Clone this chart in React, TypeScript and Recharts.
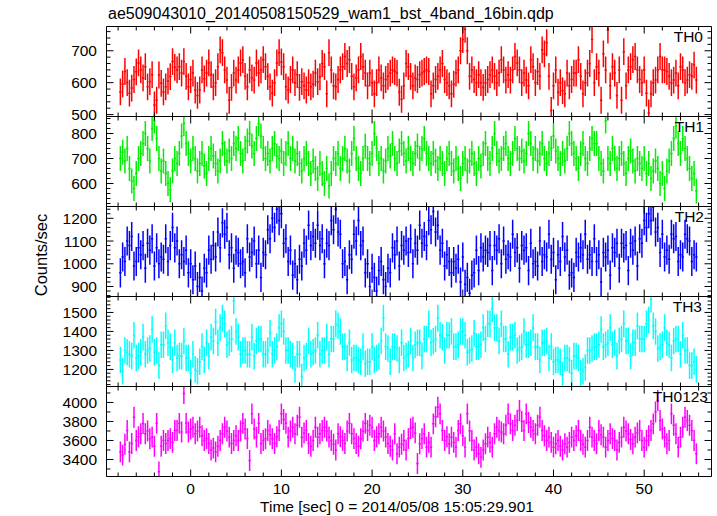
import React from 'react';
import { ScatterChart, Scatter, XAxis, YAxis, ErrorBar } from 'recharts';

const W = 717;
const H = 516;
const FONT = '"Liberation Sans", Arial, Helvetica, sans-serif';

// time bins (sec, relative to 2014/05/08 15:05:29.901)
const T_START = -7.75;
const BIN = 0.25;
const X_DOMAIN: [number, number] = [-9.28, 57.42];
const X_MAJOR_LABELS = [0, 10, 20, 30, 40, 50];

const TITLE = 'ae509043010_20140508150529_wam1_bst_4band_16bin.qdp';
const X_LABEL = 'Time [sec] 0 = 2014/05/08 15:05:29.901';
const Y_LABEL = 'Counts/sec';

const TH0_RATE = [
  571, 596, 635, 600, 567, 583, 610, 634, 662, 640,
  615, 650, 587, 603, 625, 530, 545, 624, 598, 571,
  587, 605, 619, 666, 648, 640, 650, 630, 666, 620,
  587, 610, 630, 577, 560, 577, 640, 612, 630, 662,
  625, 587, 600, 650, 703, 694, 640, 608, 545, 585,
  630, 608, 640, 662, 672, 620, 587, 640, 615, 608,
  662, 630, 640, 672, 650, 619, 587, 567, 600, 662,
  694, 665, 650, 587, 577, 610, 640, 600, 625, 585,
  603, 590, 577, 600, 587, 595, 630, 603, 618, 660,
  650, 565, 694, 640, 590, 587, 610, 640, 650, 682,
  660, 672, 620, 587, 615, 640, 682, 650, 630, 590,
  630, 600, 565, 600, 640, 615, 590, 610, 620, 630,
  640, 635, 630, 570, 548, 590, 660, 650, 620, 590,
  615, 610, 625, 630, 635, 640, 635, 565, 590, 610,
  620, 640, 660, 610, 600, 590, 565, 595, 630, 640,
  700, 735, 767, 700, 620, 640, 610, 600, 625, 600,
  585, 600, 610, 625, 640, 620, 600, 630,
  672, 640, 608, 625, 608, 640, 682, 662, 640, 600,
  630, 608, 590, 672, 650, 600, 635, 620, 703, 690,
  725, 620, 513, 590, 640, 570, 600, 575, 565, 630,
  590, 610, 630, 630, 672, 620, 565, 600, 630, 660,
  735, 600, 650, 630, 545, 690, 640, 765, 590, 650,
  630, 560, 640, 545, 697, 590, 640, 650, 672, 682,
  640, 610, 600, 640, 567, 505, 565, 600, 608, 640,
  682, 640, 640, 635, 620, 600, 608, 630, 590, 650,
  640, 600, 608, 625, 620, 655, 608,
];

const TH1_RATE = [
  700, 725, 690, 740, 660, 610, 580, 640, 700, 720,
  760, 800, 740, 690, 820, 850, 780, 700, 650, 690,
  640, 600, 575, 650, 700, 680, 720, 790, 840, 760,
  720, 690, 740, 700, 650, 680, 720, 670, 640, 700,
  740, 710, 680, 650, 690, 760, 720, 690, 730, 700,
  760, 740, 780, 720, 690, 740, 770, 800, 750, 720,
  780, 840, 790, 740, 700, 720, 690, 740, 760, 710,
  700, 730, 680, 720, 760, 700, 740, 690, 720, 680,
  650, 700, 720, 680, 640, 690, 660, 620, 680, 640,
  600, 660, 590, 640, 700, 680, 720, 660, 700, 740,
  690, 650, 720, 780, 700, 660, 640, 700, 750, 700,
  680, 720, 800, 740, 680, 700, 650, 690, 740, 710,
  760, 700, 680, 730, 760, 720, 690, 740, 700, 680,
  720, 750, 700, 740, 780, 720, 700, 680, 720, 690,
  660, 700, 680, 640, 700, 720, 680, 650, 700, 660,
  620, 680, 700, 650, 690, 720, 680, 640, 700, 670,
  720, 760, 700, 680, 740, 800, 720, 690, 700, 740,
  760, 700, 680, 720, 780, 740, 700, 730, 690, 720,
  800, 760, 700, 740, 690, 720, 760, 700, 680, 720,
  740, 790, 730, 700, 680, 720, 690, 740, 800, 760,
  720, 700, 660, 720, 760, 700, 680, 740, 780, 760,
  760, 700, 680, 650, 850, 700, 680, 740, 700, 660,
  700, 720, 680, 640, 700, 730, 690, 650, 700, 680,
  660, 700, 640, 680, 620, 650, 690, 660, 600, 640,
  580, 650, 690, 720, 780, 830, 760, 720, 780, 740,
  700, 660, 620, 640, 570,
];

const TH2_RATE = [
  960, 1030, 1010, 1100, 1080, 1120, 990, 1010, 1070, 1040,
  1080, 980, 1090, 1060, 1110, 990, 1070, 1000, 1030, 1020,
  1110, 1010, 1080, 1160, 1070, 1100, 1000, 1040, 1010, 1060,
  960, 1000, 930, 990, 900, 940, 880, 980, 960, 1060,
  1020, 1080, 1030, 1140, 1070, 1180, 1130, 1160, 1040, 1070,
  980, 1060, 1050, 1000, 1010, 960, 1110, 1030, 1050, 1100,
  1000, 1060, 940, 1050, 1040, 1150, 1110, 1200, 1160, 1240,
  1190, 1220, 1090, 1110, 1010, 1060, 950, 1000, 930, 1020,
  990, 1090, 1060, 1170, 1080, 1120, 1090, 1170, 1080, 1110,
  1000, 1090, 1080, 1190, 1150, 1240, 1140, 1130, 1000, 1010,
  930, 1040, 1020, 1130, 1100, 1190, 1080, 1100, 960, 1000,
  900, 980, 940, 880, 970, 1010, 930, 900, 980, 960,
  1070, 1040, 1100, 990, 1080, 1060, 1100, 1050, 1110, 1000,
  1090, 1060, 1170, 1090, 1120, 1080, 1190, 1150, 1230, 1140,
  1170, 1060, 1090, 990, 1040, 1010, 960, 1010, 980, 1020,
  920, 1030, 910, 940, 870, 950, 960, 1060, 970, 1070,
  1030, 1060, 1050, 1080, 970, 1080, 1060, 1110, 1000, 1100,
  1020, 1040, 1030, 1130, 1050, 1070, 980, 1080, 1060, 1070,
  970, 1090, 1000, 1010, 990, 1100, 1010, 1040, 1030, 1130,
  1020, 1050, 930, 1040, 1010, 1120, 1030, 1060, 950, 960,
  940, 1050, 1030, 1070, 1040, 1130, 1020, 1040, 1010, 1110,
  1010, 1040, 920, 1050, 1030, 1060, 950, 1070, 1050, 1090,
  980, 1090, 1070, 1080, 970, 1090, 1060, 1100, 990, 1110,
  1090, 1190, 1160, 1220, 1190, 1250, 1140, 1160, 1050, 1130,
  1030, 1060, 1020, 1130, 1110, 1120, 1010, 1040, 1030, 1130,
  1110, 1100, 1010, 1040, 1030,
];

const TH3_RATE = [
  1250, 1190, 1300, 1290, 1280, 1270, 1380, 1260, 1270, 1290,
  1370, 1280, 1300, 1310, 1410, 1290, 1300, 1220, 1330, 1330,
  1430, 1340, 1320, 1250, 1340, 1260, 1270, 1270, 1350, 1260,
  1260, 1180, 1280, 1200, 1190, 1240, 1320, 1250, 1340, 1270,
  1370, 1350, 1450, 1340, 1420, 1470, 1440, 1330, 1340, 1360,
  1560, 1400, 1370, 1280, 1300, 1300, 1280, 1280, 1370, 1270,
  1350, 1360, 1360, 1280, 1280, 1300, 1390, 1280, 1300, 1320,
  1420, 1440, 1400, 1300, 1300, 1280, 1270, 1200, 1280, 1280,
  1160, 1260, 1270, 1350, 1280, 1290, 1300, 1380, 1280, 1300,
  1300, 1370, 1280, 1360, 1360, 1440, 1430, 1400, 1320, 1320,
  1260, 1340, 1250, 1260, 1260, 1250, 1240, 1320, 1230, 1240,
  1240, 1320, 1250, 1260, 1270, 1350, 1470, 1320, 1310, 1240,
  1320, 1320, 1310, 1250, 1340, 1260, 1270, 1280, 1350, 1260,
  1330, 1340, 1340, 1270, 1360, 1360, 1440, 1340, 1350, 1360,
  1470, 1380, 1370, 1300, 1380, 1380, 1400, 1320, 1320, 1330,
  1400, 1400, 1380, 1290, 1300, 1310, 1390, 1320, 1320, 1330,
  1420, 1360, 1440, 1440, 1520, 1420, 1420, 1350, 1440, 1360,
  1360, 1280, 1370, 1370, 1380, 1300, 1310, 1320, 1400, 1330,
  1330, 1340, 1420, 1320, 1320, 1250, 1340, 1340, 1350, 1260,
  1320, 1240, 1250, 1250, 1240, 1170, 1260, 1260, 1250, 1180,
  1270, 1270, 1260, 1180, 1190, 1210, 1300, 1300, 1310, 1320,
  1320, 1330, 1410, 1320, 1330, 1340, 1420, 1330, 1340, 1270,
  1350, 1360, 1440, 1350, 1350, 1270, 1340, 1340, 1430, 1360,
  1360, 1360, 1440, 1460, 1570, 1430, 1400, 1310, 1320, 1330,
  1420, 1340, 1330, 1260, 1350, 1360, 1360, 1280, 1380, 1300,
  1300, 1220, 1220, 1240, 1200,
];

const TH0123_RATE = [
  3480, 3446, 3560, 3705, 3480, 3568, 3845, 3600, 3640, 3670,
  3779, 3670, 3700, 3618, 3635, 3540, 3780, 3270, 3540, 3600,
  3568, 3600, 3620, 3580, 3705, 3705, 3780, 3690, 4094, 3780,
  3690, 3720, 3740, 3670, 3700, 3740, 3650, 3600, 3620, 3568,
  3500, 3520, 3480, 3540, 3600, 3670, 3740, 3700, 3635, 3568,
  3600, 3650, 3600, 3700, 3780, 3720, 3620, 3390, 3880, 3720,
  3635, 3780, 3568, 3600, 3618, 3705, 3660, 3618, 3568, 3640,
  3705, 3880, 3820, 3780, 3635, 3700, 3740, 3670, 3760, 3845,
  3635, 3680, 3705, 3568, 3540, 3600, 3740, 3635, 3670, 3705,
  3740, 3700, 3635, 3600, 3560, 3500, 3670, 3640, 3600, 3568,
  3700, 3780, 3670, 3620, 3568, 3540, 3618, 3700, 3780, 3705,
  3760, 3740, 3600, 3640, 3670, 3740, 3700, 3635, 3568, 3540,
  3500, 3670, 3460,
  3530, 3560, 3600, 3500, 3620, 3725, 3740, 3680, 3358, 3565, 3620, 3670, 3530, 3580, 3530,
  3775, 3850, 3950, 3880, 3705, 3600, 3640, 3565, 3635, 3580, 3530, 3705, 3775, 3650, 3530,
  3880, 3700, 3600, 3500, 3530, 3460, 3424, 3500, 3565, 3635, 3580, 3530, 3670, 3740, 3705,
  3690, 3670, 3760, 3880, 3775, 3705, 3760, 3810, 3916, 3800, 3705, 3880, 3790, 3740, 3705,
  3670, 3760, 3845, 3705, 3650, 3600, 3635, 3580, 3530, 3565, 3600, 3540, 3500, 3565, 3530,
  3580, 3635, 3600, 3650, 3705, 3600, 3560, 3530, 3600, 3740, 3635, 3600, 3565, 3705, 3660,
  3635, 3530, 3600, 3670, 3620, 3600, 3500, 3580, 3635, 3740, 3700, 3670, 3610, 3565, 3635,
  3680, 3705, 3600, 3530, 3600, 3650, 3705, 3775, 3900, 4021, 3810, 3720, 3635, 3565, 3600,
  3880, 3760, 3670, 3530, 3635, 3740, 3845, 3810, 3760, 3705, 3600, 3460,
];

// 1-sigma errors (counts/sec) per band
const TH0_ERR = 42;
const TH1_ERR = 50;
const TH2_ERR = 64;
const TH3_ERR = 70;
const TH0123_ERR = 110;

const TH0_LABELS = [500, 600, 700];
const TH1_LABELS = [600, 700, 800];
const TH2_LABELS = [900, 1000, 1100, 1200];
const TH3_LABELS = [1200, 1300, 1400, 1500];
const TH0123_LABELS = [3400, 3600, 3800, 4000];

function steps(a: number, b: number, s: number): number[] {
  const out: number[] = [];
  for (let v = a; v <= b + 1e-9; v += s) out.push(Math.round(v * 1000) / 1000);
  return out;
}

const X_TICKS = steps(-8, 56, 2);

type Panel = {
  name: string;
  values: number[];
  err: number;
  color: string;
  domain: [number, number];
  labels: number[];
  minorStep: number;
  majorStep: number;
  top: number;
  bottom: number;
  labelRight: number;
};

const PANEL_EDGES = [26.5, 116.5, 206.5, 296.5, 386.5, 476.5];
const LEFT = 106.5;
const RIGHT = 711.5;

const PANELS: Panel[] = [
  { name: 'TH0', values: TH0_RATE, err: TH0_ERR, color: '#ff0000', domain: [494, 776], labels: TH0_LABELS, minorStep: 20, majorStep: 100, top: PANEL_EDGES[0], bottom: PANEL_EDGES[1], labelRight: 703 },
  { name: 'TH1', values: TH1_RATE, err: TH1_ERR, color: '#00ee00', domain: [508, 868], labels: TH1_LABELS, minorStep: 20, majorStep: 100, top: PANEL_EDGES[1], bottom: PANEL_EDGES[2], labelRight: 704 },
  { name: 'TH2', values: TH2_RATE, err: TH2_ERR, color: '#0000ff', domain: [856, 1252], labels: TH2_LABELS, minorStep: 20, majorStep: 100, top: PANEL_EDGES[2], bottom: PANEL_EDGES[3], labelRight: 704 },
  { name: 'TH3', values: TH3_RATE, err: TH3_ERR, color: '#00ffff', domain: [1110, 1584], labels: TH3_LABELS, minorStep: 20, majorStep: 100, top: PANEL_EDGES[3], bottom: PANEL_EDGES[4], labelRight: 702 },
  { name: 'TH0123', values: TH0123_RATE, err: TH0123_ERR, color: '#ff00ff', domain: [3221, 4168], labels: TH0123_LABELS, minorStep: 100, majorStep: 200, top: PANEL_EDGES[4], bottom: PANEL_EDGES[5], labelRight: 708 },
];

const TICK_FONT = 15.5;
const MAJOR_LEN = 7;
const MINOR_LEN = 4;
const LINE_W = 1.5;

// charts are drawn on an enlarged canvas shifted by PAD so that axis widths fit
const PAD = 80;
const AX_W = 40;
const AX_H = 30;
const CW = W + 2 * PAD;
const CH = H + 2 * PAD;

// half a time bin, in pixels of the x scale (used for the horizontal bin marker)
const HALF_BIN_PX = ((RIGHT - LEFT) / (X_DOMAIN[1] - X_DOMAIN[0])) * (BIN / 2);

function makeBinShape(color: string) {
  return (props: any) => {
    const { cx, cy } = props;
    if (cx == null || cy == null) return <g />;
    return (
      <line
        x1={cx - HALF_BIN_PX}
        x2={cx + HALF_BIN_PX}
        y1={cy}
        y2={cy}
        stroke={color}
        strokeWidth={LINE_W}
        strokeLinecap="butt"
        fill="none"
      />
    );
  };
}

function renderXTick(props: any, side: 'top' | 'bottom', showLabel: boolean) {
  const { x, y, payload } = props;
  const v = payload.value as number;
  const major = Math.abs(v % 10) < 1e-9;
  const len = major ? MAJOR_LEN : MINOR_LEN;
  const dir = side === 'bottom' ? -1 : 1;
  return (
    <g>
      <line x1={x} x2={x} y1={y} y2={y + dir * len} stroke="#000" strokeWidth={1} />
      {showLabel && major && side === 'bottom' ? (
        <text x={x} y={y + 17.5} textAnchor="middle" fontFamily={FONT} fontSize={TICK_FONT} fill="#000">
          {v}
        </text>
      ) : null}
    </g>
  );
}

function renderYTick(props: any, side: 'left' | 'right', majorStep: number) {
  const { x, y, payload } = props;
  const v = payload.value as number;
  const major = Math.abs(v % majorStep) < 1e-9;
  const len = major ? MAJOR_LEN : MINOR_LEN;
  const dir = side === 'left' ? 1 : -1;
  return (
    <g>
      <line x1={x} x2={x + dir * len} y1={y} y2={y} stroke="#000" strokeWidth={1} />
      {side === 'left' && major ? (
        <text x={x - 9.5} y={y + 5.5} textAnchor="end" fontFamily={FONT} fontSize={TICK_FONT} fill="#000">
          {v}
        </text>
      ) : null}
    </g>
  );
}

// data layer: hidden axes, clipped to the panel frame
function PanelData({ p }: { p: Panel }) {
  const data = p.values.map((v, i) => ({ t: T_START + BIN * i, v, ey: p.err }));
  const m = {
    top: p.top + PAD,
    bottom: H - p.bottom + PAD,
    left: LEFT + PAD,
    right: W - RIGHT + PAD,
  };
  return (
    <div
      style={{
        position: 'absolute',
        left: -PAD,
        top: -PAD,
        width: CW,
        height: CH,
        clipPath: `inset(${m.top}px ${m.right}px ${m.bottom}px ${m.left}px)`,
      }}
    >
      <ScatterChart width={CW} height={CH} margin={m}>
        <XAxis xAxisId="b" type="number" dataKey="t" domain={X_DOMAIN} allowDataOverflow hide />
        <YAxis yAxisId="l" type="number" dataKey="v" domain={p.domain} allowDataOverflow hide />
        <Scatter
          xAxisId="b"
          yAxisId="l"
          data={data}
          dataKey="v"
          fill={p.color}
          stroke={p.color}
          shape={makeBinShape(p.color)}
          isAnimationActive={false}
        >
          <ErrorBar dataKey="ey" direction="y" width={0} stroke={p.color} strokeWidth={LINE_W} isAnimationActive={false} />
        </Scatter>
      </ScatterChart>
    </div>
  );
}

// frame layer: box, inward ticks and tick labels
function PanelFrame({ p, last }: { p: Panel; last: boolean }) {
  const lo = Math.ceil(p.domain[0] / p.minorStep) * p.minorStep;
  const hi = Math.floor(p.domain[1] / p.minorStep) * p.minorStep;
  const yTicks = steps(lo, hi, p.minorStep);
  const axisLine = { stroke: '#000', strokeWidth: 1 };
  return (
    <div style={{ position: 'absolute', left: -PAD, top: -PAD, width: CW, height: CH }}>
      <ScatterChart
        width={CW}
        height={CH}
        margin={{
          top: p.top + PAD - AX_H,
          bottom: H - p.bottom + PAD - AX_H,
          left: LEFT + PAD - AX_W,
          right: W - RIGHT + PAD - AX_W,
        }}
      >
        <XAxis
          xAxisId="b"
          type="number"
          dataKey="t"
          domain={X_DOMAIN}
          allowDataOverflow
          ticks={X_TICKS}
          interval={0}
          height={AX_H}
          tickSize={0}
          tickMargin={0}
          tickLine={false}
          axisLine={axisLine}
          tick={(props: any) => renderXTick(props, 'bottom', last)}
        />
        <XAxis
          xAxisId="t"
          orientation="top"
          type="number"
          dataKey="t"
          domain={X_DOMAIN}
          allowDataOverflow
          ticks={X_TICKS}
          interval={0}
          height={AX_H}
          tickSize={0}
          tickMargin={0}
          tickLine={false}
          axisLine={axisLine}
          tick={(props: any) => renderXTick(props, 'top', false)}
        />
        <YAxis
          yAxisId="l"
          type="number"
          dataKey="v"
          domain={p.domain}
          allowDataOverflow
          ticks={yTicks}
          interval={0}
          width={AX_W}
          tickSize={0}
          tickMargin={0}
          tickLine={false}
          axisLine={axisLine}
          tick={(props: any) => renderYTick(props, 'left', p.majorStep)}
        />
        <YAxis
          yAxisId="r"
          orientation="right"
          type="number"
          dataKey="v"
          domain={p.domain}
          allowDataOverflow
          ticks={yTicks}
          interval={0}
          width={AX_W}
          tickSize={0}
          tickMargin={0}
          tickLine={false}
          axisLine={axisLine}
          tick={(props: any) => renderYTick(props, 'right', p.majorStep)}
        />
      </ScatterChart>
    </div>
  );
}

export default function App() {
  return (
    <div style={{ position: 'absolute', left: 0, top: 0, width: W, height: H, background: '#fff', overflow: 'hidden' }}>
      {PANELS.map((p) => (
        <PanelData key={'d' + p.name} p={p} />
      ))}
      {PANELS.map((p, i) => (
        <PanelFrame key={'f' + p.name} p={p} last={i === PANELS.length - 1} />
      ))}
      <svg width={W} height={H} style={{ position: 'absolute', left: 0, top: 0 }}>
        <text x={108} y={19} fontFamily={FONT} fontSize={16} fill="#000">{TITLE}</text>
        <text x={397} y={512} textAnchor="middle" fontFamily={FONT} fontSize={TICK_FONT} fill="#000">{X_LABEL}</text>
        <text x={47} y={255} textAnchor="middle" fontFamily={FONT} fontSize={16.5} fill="#000" transform="rotate(-90, 47, 255)">{Y_LABEL}</text>
        {PANELS.map((p) => (
          <text key={p.name} x={p.labelRight} y={p.top + 15.5} textAnchor="end" fontFamily={FONT} fontSize={TICK_FONT} fill="#000">
            {p.name}
          </text>
        ))}
      </svg>
    </div>
  );
}
